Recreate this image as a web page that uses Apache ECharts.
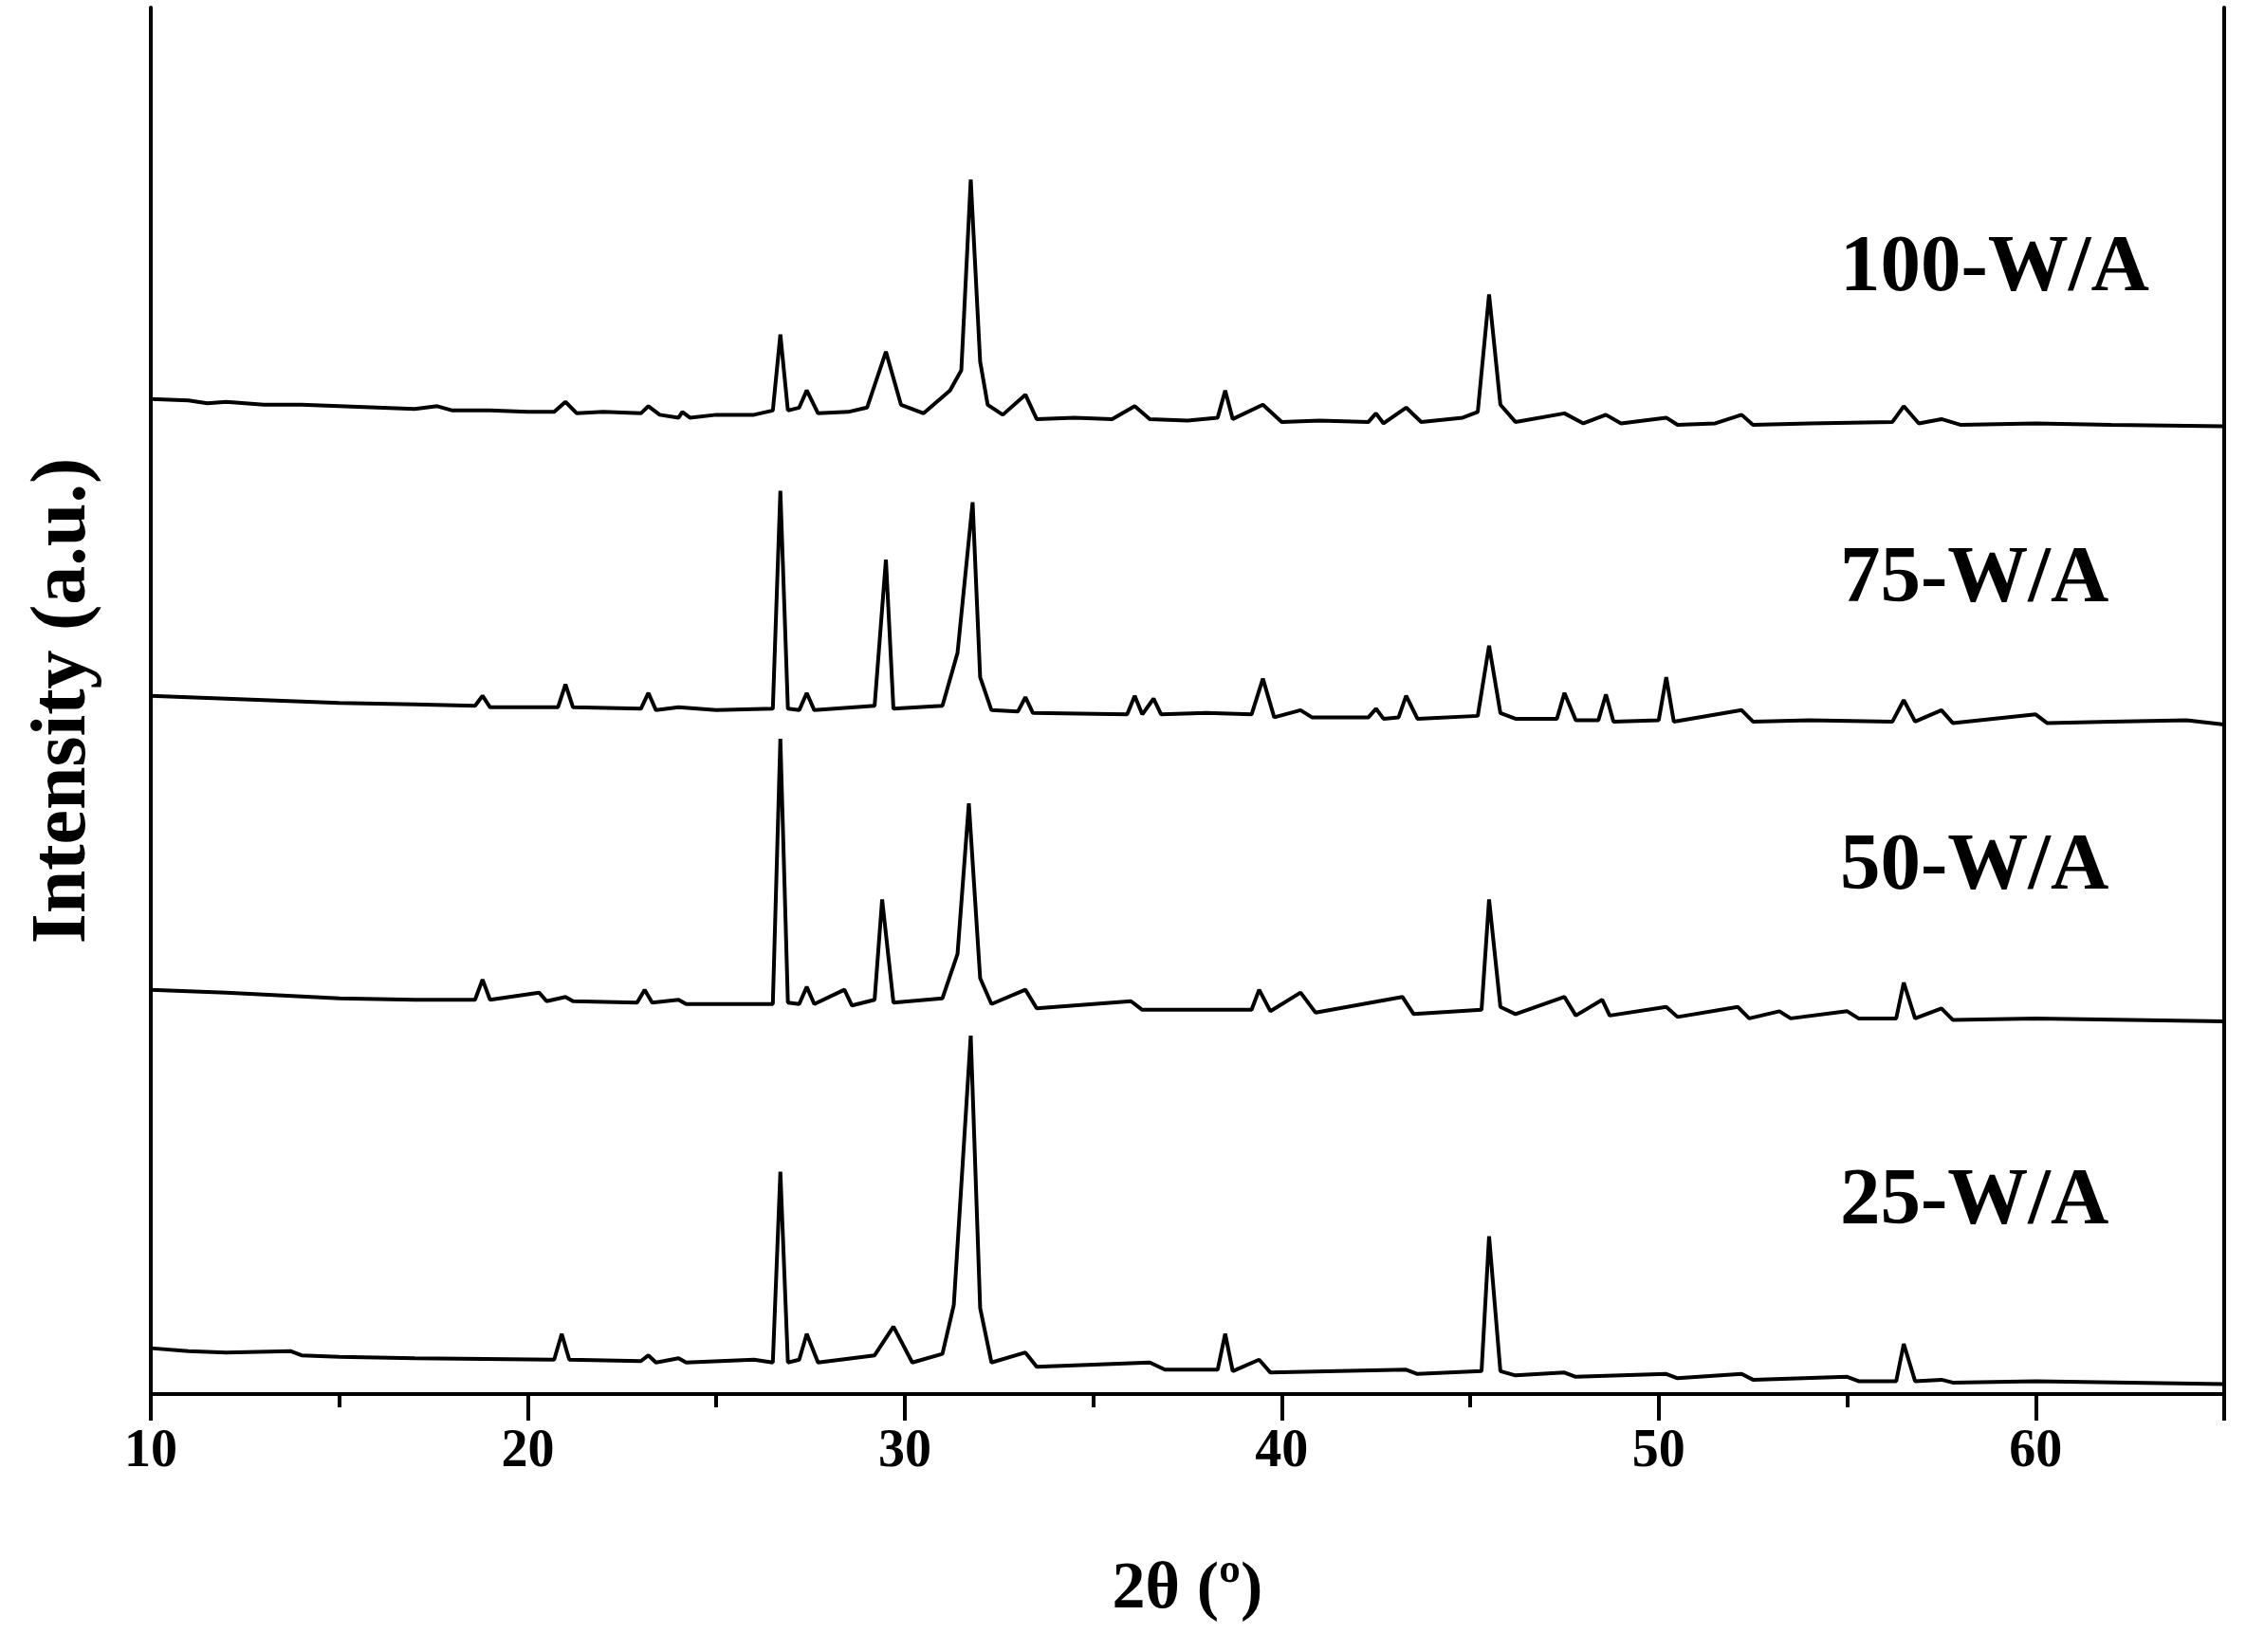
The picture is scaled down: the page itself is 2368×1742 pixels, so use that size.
<!DOCTYPE html>
<html>
<head>
<meta charset="utf-8">
<script src="https://cdn.jsdelivr.net/npm/echarts@6/dist/echarts.min.js"></script>
<style>html,body{margin:0;background:#fff}#chart{width:2368px;height:1742px}</style>
</head>
<body>
<div id="chart"></div>
<script>
// [2θ, stacked intensity] pairs
const s100 = [[10,694],[11,693],[11.5,691],[12,692],[13,690],[14,690],[15,689],[16,688],[17,687],[17.6,689],[18,686],[19,686],[20,685],[20.7,685],[21,692],[21.3,684],[22,685],[23,684],[23.2,689],[23.5,683],[24,681],[24.1,685],[24.3,681],[25,683],[26,683],[26.5,686],[26.7,739],[26.9,686],[27.2,688],[27.4,700],[27.7,684],[28.5,685],[29,688],[29.5,727],[29.9,690],[30.5,684],[31.2,700],[31.5,714],[31.75,847],[32,720],[32.2,690],[32.6,683],[33.2,697],[33.5,680],[34.5,681],[35.5,680],[36.1,689],[36.5,680],[37.5,679],[38.3,681],[38.5,700],[38.7,680],[39.5,690],[40,678],[41,679],[42.3,678],[42.5,684],[42.7,677],[43.3,688],[43.7,678],[44.8,681],[45.2,685],[45.5,767],[45.8,690],[46.2,678],[47.5,684],[48,677],[48.6,683],[49,677],[50.2,681],[50.5,676],[51.5,677],[52.2,683],[52.5,676],[54,677],[56.2,678],[56.5,689],[56.9,677],[57.5,680],[58,676],[60,677],[62,676],[65,675]];
const s75 = [[10,487],[12,485],[15,482],[17,481],[18.6,480],[18.8,487],[19,479],[20.8,479],[21,495],[21.2,479],[23,478],[23.2,489],[23.4,477],[24,479],[25,477],[26.5,478],[26.7,630],[26.9,478],[27.2,477],[27.4,489],[27.6,477],[29.2,480],[29.5,582],[29.7,478],[31,480],[31.4,517],[31.8,622],[32,500],[32.3,477],[33,476],[33.2,486],[33.4,475],[35.9,474],[36.1,487],[36.3,474],[36.6,485],[36.8,474],[38,475],[39.2,474],[39.5,499],[39.8,472],[40.5,477],[40.8,472],[42.3,472],[42.5,478],[42.7,471],[43.1,472],[43.3,487],[43.6,471],[45.2,473],[45.5,522],[45.8,475],[46.2,471],[47.3,471],[47.5,489],[47.8,470],[48.4,470],[48.6,488],[48.8,469],[50,470],[50.2,500],[50.4,469],[52.2,477],[52.5,469],[54,470],[56.2,469],[56.5,484],[56.8,469],[57.5,477],[57.8,468],[60,474],[60.3,468],[62,469],[64,470],[65,467]];
const s50 = [[10,282],[12,280],[15,276],[17,275],[18.6,275],[18.8,289],[19,275],[20.3,280],[20.5,274],[21,277],[21.2,274],[22.9,273],[23.1,282],[23.3,273],[24,275],[24.2,272],[26.5,272],[26.7,457],[26.9,273],[27.2,272],[27.4,284],[27.6,272],[28.4,282],[28.6,271],[29.2,275],[29.4,345],[29.7,273],[31,276],[31.4,307],[31.7,412],[32,290],[32.3,272],[33.2,282],[33.5,269],[36,274],[36.3,268],[38,268],[39.2,268],[39.4,282],[39.7,267],[40.5,280],[40.9,266],[43.2,277],[43.5,265],[45.3,268],[45.5,345],[45.8,270],[46.2,265],[47.5,277],[47.8,264],[48.5,275],[48.7,264],[50.2,270],[50.5,263],[52.1,270],[52.4,262],[53.2,267],[53.5,262],[55,267],[55.3,262],[56.3,262],[56.5,287],[56.8,262],[57.5,269],[57.8,261],[60,262],[65,260]];
const s25 = [[10,32],[11,30],[12,29],[13.7,30],[14,27],[15,26],[17,25],[20.7,24],[20.9,42],[21.1,24],[23,23],[23.2,27],[23.4,22],[24,25],[24.2,22],[26,24],[26.5,22],[26.7,155],[26.9,22],[27.2,24],[27.4,42],[27.7,22],[29.2,27],[29.7,47],[30.2,22],[31,28],[31.3,62],[31.75,250],[32,60],[32.3,22],[33.2,29],[33.5,19],[36.5,22],[36.9,17],[38.3,17],[38.5,42],[38.7,16],[39.4,24],[39.7,15],[43.3,17],[43.6,14],[45.3,16],[45.5,110],[45.8,16],[46.2,13],[47.5,15],[47.8,12],[50.2,14],[50.5,11],[52.2,14],[52.5,10],[55,12],[55.3,9],[56.3,9],[56.5,35],[56.8,9],[57.5,10],[57.8,8],[60,9],[65,7]];
const labels = ['100-W/A', '75-W/A', '50-W/A', '25-W/A'];
const labelY = [287, 615, 918, 1271];

const chart = echarts.init(document.getElementById('chart'));
const font = 'Liberation Serif';
const line = d => ({ type: 'line', data: d, showSymbol: false, lineStyle: { color: '#000', width: 4 } });

chart.setOption({
  animation: false,
  grid: { left: 159, right: 23, top: 8, bottom: 272 },
  xAxis: [{
    type: 'value', min: 10, max: 65, interval: 10,
    name: '2θ (º)', nameLocation: 'middle', nameGap: 172,
    nameTextStyle: { fontFamily: font, fontSize: 70, fontWeight: 'bold', color: '#000' },
    axisLine: { lineStyle: { color: '#000', width: 4 } },
    axisTick: { length: 28, lineStyle: { color: '#000', width: 4 } },
    minorTick: { show: true, splitNumber: 2, length: 14, lineStyle: { color: '#000', width: 4 } },
    splitLine: { show: false },
    axisLabel: { fontFamily: font, fontSize: 56, fontWeight: 'bold', color: '#000', margin: 34, showMaxLabel: false }
  }, {
    type: 'value', min: 10, max: 65, position: 'top',
    axisLine: { lineStyle: { color: '#000', width: 4 } },
    axisTick: { show: false }, axisLabel: { show: false }, splitLine: { show: false }
  }],
  yAxis: [{
    type: 'value', min: 0, max: 967,
    name: 'Intensity (a.u.)', nameLocation: 'middle', nameGap: 50,
    nameTextStyle: { fontFamily: font, fontSize: 82, fontWeight: 'bold', color: '#000' },
    axisLine: { show: true, lineStyle: { color: '#000', width: 4 } },
    axisTick: { show: false }, axisLabel: { show: false }, splitLine: { show: false }
  }, {
    type: 'value', min: 0, max: 967, position: 'right',
    axisLine: { show: true, lineStyle: { color: '#000', width: 4 } },
    axisTick: { show: false }, axisLabel: { show: false }, splitLine: { show: false }
  }],
  series: [line(s100), line(s75), line(s50), line(s25)],
  graphic: labels.map((t, i) => ({
    type: 'text', left: 1940, top: labelY[i] - 45,
    style: { text: t, font: 'bold 85px "Liberation Serif"', fill: '#000' }
  }))
});
</script>
</body>
</html>
